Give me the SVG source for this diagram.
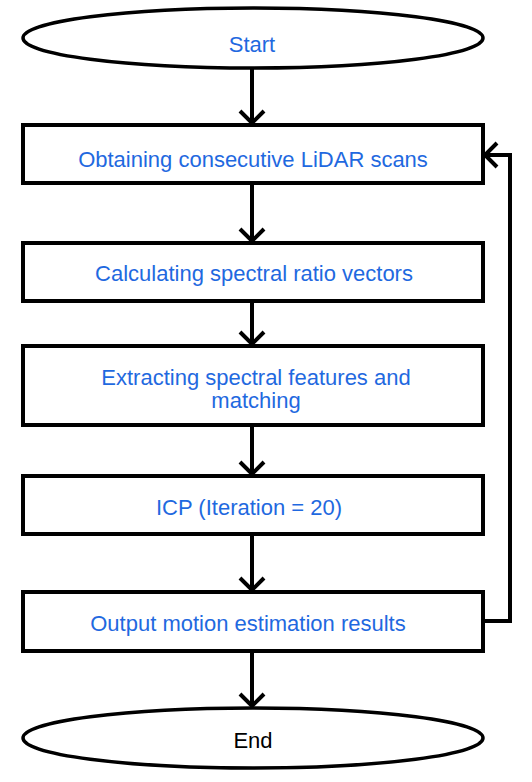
<svg xmlns="http://www.w3.org/2000/svg" width="532" height="782" viewBox="0 0 532 782">
<defs>
<style>
.node{fill:#fff;stroke:#000;stroke-width:4}
.term{fill:#fff;stroke:#000;stroke-width:3.5}
.lbl{font-family:"Liberation Sans",Arial,sans-serif;font-size:22px;fill:#1f69e0;text-anchor:middle}
.blk{fill:#000}
.conn{fill:none;stroke:#000;stroke-width:4}
</style>
<marker id="chev" markerUnits="userSpaceOnUse" markerWidth="30" markerHeight="30" viewBox="-15 -15 30 30" refX="0" refY="0" orient="auto" overflow="visible">
<path d="M-12,-12 L0,0 L-12,12" fill="none" stroke="#000" stroke-width="4"/>
</marker>
</defs>
<rect width="532" height="782" fill="#fff"/>
<g id="connectors">
<line class="conn" x1="252" y1="68" x2="252" y2="123" marker-end="url(#chev)"/>
<line class="conn" x1="252" y1="183" x2="252" y2="241" marker-end="url(#chev)"/>
<line class="conn" x1="252" y1="301" x2="252" y2="344" marker-end="url(#chev)"/>
<line class="conn" x1="252" y1="425" x2="252" y2="474" marker-end="url(#chev)"/>
<line class="conn" x1="252" y1="534" x2="252" y2="590" marker-end="url(#chev)"/>
<line class="conn" x1="252" y1="651" x2="252" y2="706" marker-end="url(#chev)"/>
<path class="conn" d="M483,621 H510 V155 H485" marker-end="url(#chev)"/>
</g>
<g id="start">
<ellipse class="term" cx="253" cy="38" rx="230" ry="30"/>
<text class="lbl" x="252" y="52">Start</text>
</g>
<g id="obtain">
<rect class="node" x="23" y="125" width="460" height="58"/>
<text class="lbl" x="253" y="167">Obtaining consecutive LiDAR scans</text>
</g>
<g id="calc">
<rect class="node" x="23" y="243" width="460" height="58"/>
<text class="lbl" x="254" y="281">Calculating spectral ratio vectors</text>
</g>
<g id="extract">
<rect class="node" x="23" y="346" width="460" height="79"/>
<text class="lbl" x="256" y="385">Extracting spectral features and</text>
<text class="lbl" x="256" y="408">matching</text>
</g>
<g id="icp">
<rect class="node" x="23" y="476" width="460" height="58"/>
<text class="lbl" x="249" y="515">ICP (Iteration = 20)</text>
</g>
<g id="output">
<rect class="node" x="23" y="592" width="460" height="59"/>
<text class="lbl" x="248" y="631">Output motion estimation results</text>
</g>
<g id="end">
<ellipse class="term" cx="253" cy="738" rx="230" ry="30"/>
<text class="lbl blk" x="253" y="748">End</text>
</g>
</svg>
